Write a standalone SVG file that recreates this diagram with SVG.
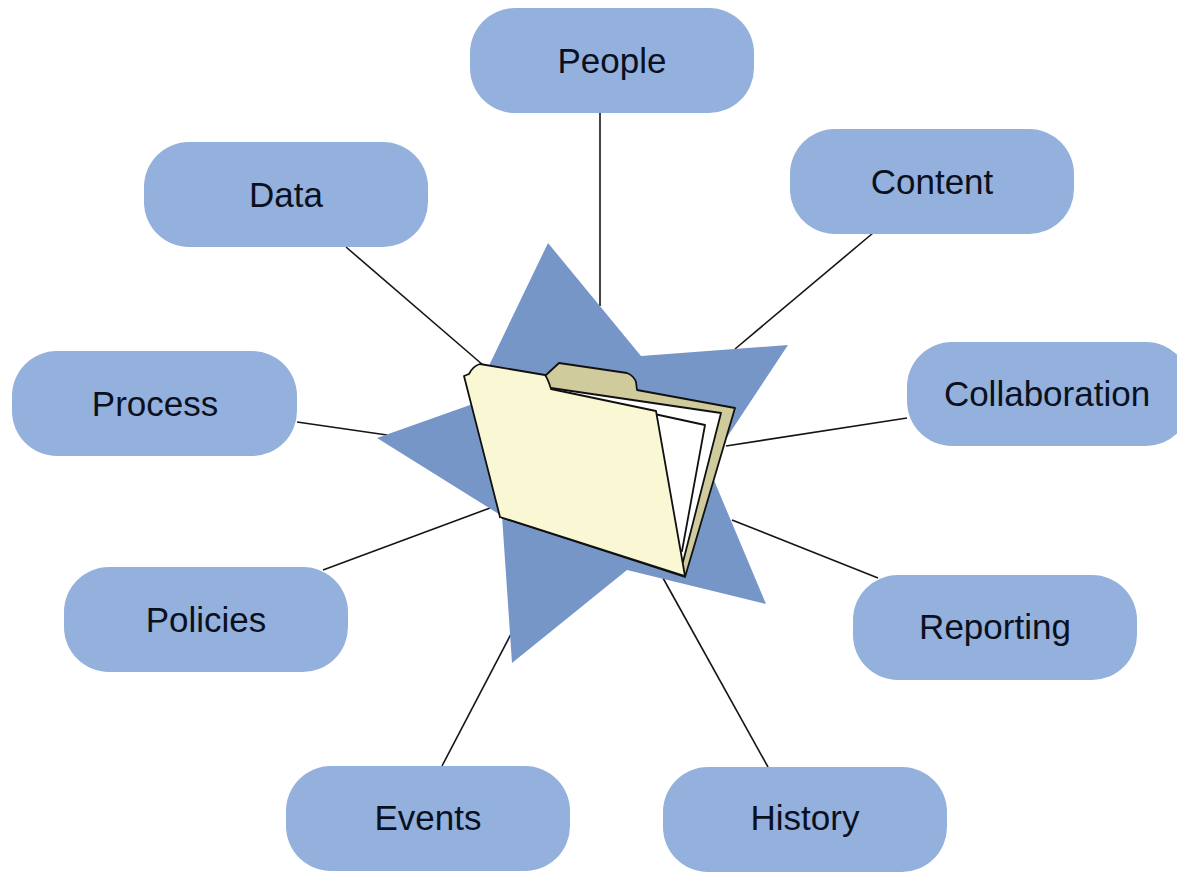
<svg xmlns="http://www.w3.org/2000/svg" width="1177" height="872" viewBox="0 0 1177 872">
<style>
.box{fill:#93B1DC}
.lbl{font-family:"Liberation Sans",Arial,sans-serif;font-size:35px;fill:#0B1020;text-anchor:middle}
.conn{stroke:#151515;stroke-width:1.6;fill:none}
.fo{stroke:#111;stroke-width:1.8;stroke-linejoin:round}
</style>
<rect width="1177" height="872" fill="#ffffff"/>
<g id="connectors">
<line class="conn" x1="600" y1="113" x2="600" y2="306"/>
<line class="conn" x1="346" y1="247" x2="483" y2="365"/>
<line class="conn" x1="873" y1="233" x2="735" y2="349"/>
<line class="conn" x1="297" y1="422" x2="387" y2="435"/>
<line class="conn" x1="907" y1="418" x2="726" y2="446"/>
<line class="conn" x1="323" y1="570" x2="490" y2="508"/>
<line class="conn" x1="878" y1="578" x2="732" y2="520"/>
<line class="conn" x1="442" y1="766" x2="511" y2="634"/>
<line class="conn" x1="768" y1="767" x2="663" y2="578"/>
</g>
<g id="hub">
<polygon fill="#7796C8" points="548,243 641,356 788,345 708,466 766,604 627,570 512,663 502,516 377,438 470,405"/>
<path class="fo" fill="#CFCB9C" d="M546,375 L559,363 L627,373 Q634,376 636,382 L637,390 L735,408 L685,577 L500,517 Z"/>
<path class="fo" fill="#ffffff" d="M551,388 L721,413 L683,562 L600,540 Z"/>
<path class="fo" fill="#ffffff" d="M553,392 L705,425 L682,551 L600,530 Z"/>
<path class="fo" fill="#FAF7D4" d="M464,376 L469,374 Q473,366 480,364 L545,375 Q548,379 551,389 L656,411 L685,576 L500,517 Z"/>
</g>
<g id="node-people"><rect class="box" x="470" y="8" width="284" height="105" rx="45"/><text class="lbl" x="612" y="73">People</text></g>
<g id="node-data"><rect class="box" x="144" y="142" width="284" height="105" rx="45"/><text class="lbl" x="286" y="207">Data</text></g>
<g id="node-content"><rect class="box" x="790" y="129" width="284" height="105" rx="45"/><text class="lbl" x="932" y="194">Content</text></g>
<g id="node-process"><rect class="box" x="12" y="351" width="285" height="105" rx="45"/><text class="lbl" x="155" y="416">Process</text></g>
<g id="node-collaboration"><rect class="box" x="907" y="342" width="284" height="104" rx="45"/><text class="lbl" x="1047" y="406">Collaboration</text></g>
<g id="node-policies"><rect class="box" x="64" y="567" width="284" height="105" rx="45"/><text class="lbl" x="206" y="632">Policies</text></g>
<g id="node-reporting"><rect class="box" x="853" y="575" width="284" height="105" rx="45"/><text class="lbl" x="995" y="639">Reporting</text></g>
<g id="node-events"><rect class="box" x="286" y="766" width="284" height="105" rx="45"/><text class="lbl" x="428" y="830">Events</text></g>
<g id="node-history"><rect class="box" x="663" y="767" width="284" height="105" rx="45"/><text class="lbl" x="805" y="830">History</text></g>
</svg>
